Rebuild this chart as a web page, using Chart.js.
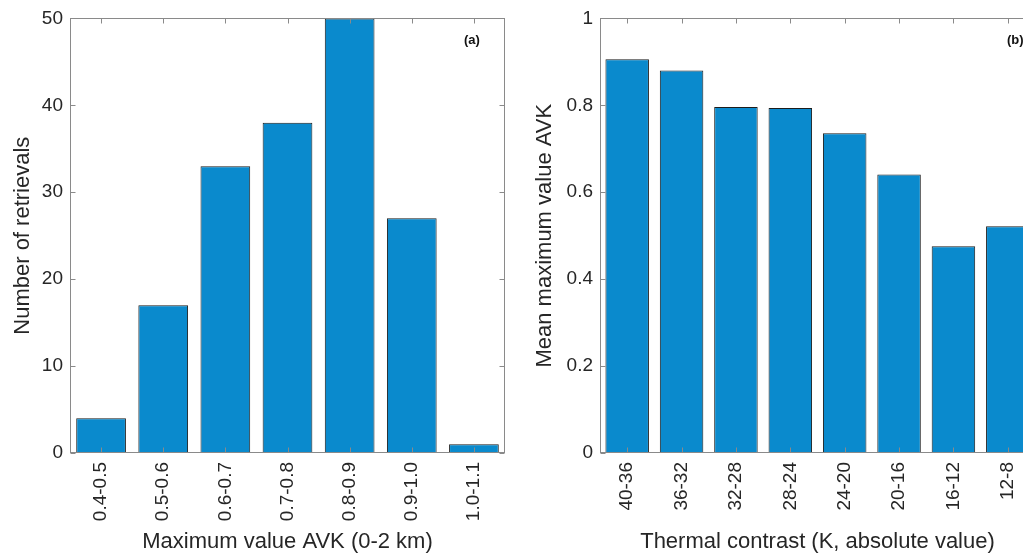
<!DOCTYPE html>
<html>
<head>
<meta charset="utf-8">
<script src="https://cdn.jsdelivr.net/npm/chart.js@4/dist/chart.umd.min.js"></script>
<style>
  html, body { margin: 0; padding: 0; background: #fff; overflow: hidden; }
  #wrap { position: relative; width: 1023px; height: 555px; overflow: hidden; }
  canvas { position: absolute; top: 0; }
  #chartA { left: 0; }
  #chartB { left: 520px; }
</style>
</head>
<body>
<div id="wrap">
  <canvas id="chartA" width="520" height="555"></canvas>
  <canvas id="chartB" width="530" height="555"></canvas>
</div>
<script>
// Panel (a): histogram of maximum AVK values
const avkBins = ['0.4-0.5', '0.5-0.6', '0.6-0.7', '0.7-0.8', '0.8-0.9', '0.9-1.0', '1.0-1.1'];
const retrievalCounts = [4, 17, 33, 38, 50, 27, 1];
const countTicks = [0, 10, 20, 30, 40, 50];

// Panel (b): mean maximum AVK per thermal contrast bin
const contrastBins = ['40-36', '36-32', '32-28', '28-24', '24-20', '20-16', '16-12', '12-8'];
const meanMaxAvk = [0.906, 0.880, 0.796, 0.794, 0.736, 0.641, 0.476, 0.522];
const avkTicks = [0, 0.2, 0.4, 0.6, 0.8, 1];

const barFill = '#0a8acd';
const barEdge = '#1c1c1c';
const textColor = '#262626';
const axisColor = '#8a8a8a';
const fontFamily = '"Liberation Sans", Arial, Helvetica, sans-serif';

// frame around the axes with inward tick marks, plus panel tag
function axesFrame(tag, tagOffset) {
    return {
        id: 'axesFrame',
        afterDatasetsDraw(chart) {
            const ctx = chart.ctx;
            const a = chart.chartArea;
            const L = Math.round(a.left) + 0.5, R = Math.round(a.right) - 0.5;
            const T = Math.round(a.top) + 0.5, B = Math.round(a.bottom) - 0.5;
            const tl = 5;
            ctx.save();
            ctx.strokeStyle = axisColor;
            ctx.lineWidth = 1;
            ctx.strokeRect(L, T, R - L, B - T);
            ctx.beginPath();
            const xs = chart.scales.x;
            xs.ticks.forEach((t, i) => {
                const px = Math.round(xs.getPixelForTick(i)) + 0.5;
                ctx.moveTo(px, B); ctx.lineTo(px, B - tl);
                ctx.moveTo(px, T); ctx.lineTo(px, T + tl);
            });
            const ys = chart.scales.y;
            ys.ticks.forEach((t, i) => {
                const py = Math.round(ys.getPixelForTick(i)) + 0.5;
                ctx.moveTo(L, py); ctx.lineTo(L + tl, py);
                ctx.moveTo(R, py); ctx.lineTo(R - tl, py);
            });
            ctx.stroke();
            ctx.fillStyle = '#111';
            ctx.font = 'bold 13px ' + fontFamily;
            ctx.textAlign = 'left';
            ctx.textBaseline = 'middle';
            ctx.fillText(tag, a.right - tagOffset, a.top + 22);
            ctx.restore();
        }
    };
}

function makePanel(canvasId, labels, values, yTicks, yMax, xTitle, yTitle, yWidth, yTitlePad, tag, tagOffset) {
    const ctx = document.getElementById(canvasId).getContext('2d');
    return new Chart(ctx, {
        type: 'bar',
        data: {
            labels: labels,
            datasets: [{
                data: values,
                backgroundColor: barFill,
                borderColor: barEdge,
                borderWidth: 1,
                categoryPercentage: 1.0,
                barPercentage: 0.8
            }]
        },
        options: {
            responsive: false,
            animation: false,
            layout: { padding: { top: 18, right: 15, left: 0, bottom: 0 } },
            plugins: {
                legend: { display: false },
                tooltip: { enabled: false }
            },
            scales: {
                x: {
                    grid: { display: false, drawTicks: false },
                    border: { display: false },
                    ticks: {
                        color: textColor,
                        font: { family: fontFamily, size: 19 },
                        maxRotation: 90,
                        minRotation: 90,
                        autoSkip: false,
                        padding: 9
                    },
                    title: {
                        display: true,
                        text: xTitle,
                        color: textColor,
                        font: { family: fontFamily, size: 22 },
                        padding: { top: 0, bottom: 0 }
                    },
                    afterFit(scale) { scale.height = 102; }
                },
                y: {
                    min: 0,
                    max: yMax,
                    grid: { display: false, drawTicks: false },
                    border: { display: false },
                    afterBuildTicks(scale) {
                        scale.ticks = yTicks.map(v => ({ value: v }));
                    },
                    ticks: {
                        color: textColor,
                        font: { family: fontFamily, size: 19 },
                        padding: 7,
                        callback: v => String(v)
                    },
                    title: {
                        display: true,
                        text: yTitle,
                        color: textColor,
                        font: { family: fontFamily, size: 22 },
                        padding: { top: yTitlePad, bottom: 0 }
                    },
                    afterFit(scale) { scale.width = yWidth; }
                }
            }
        },
        plugins: [axesFrame(tag, tagOffset)]
    });
}

makePanel('chartA', avkBins, retrievalCounts, countTicks, 50,
    'Maximum value AVK (0-2 km)', 'Number of retrievals', 70, 10, '(a)', 41);
makePanel('chartB', contrastBins, meanMaxAvk, avkTicks, 1,
    'Thermal contrast (K, absolute value)', 'Mean maximum value AVK', 80, 12, '(b)', 28);
</script>
</body>
</html>
